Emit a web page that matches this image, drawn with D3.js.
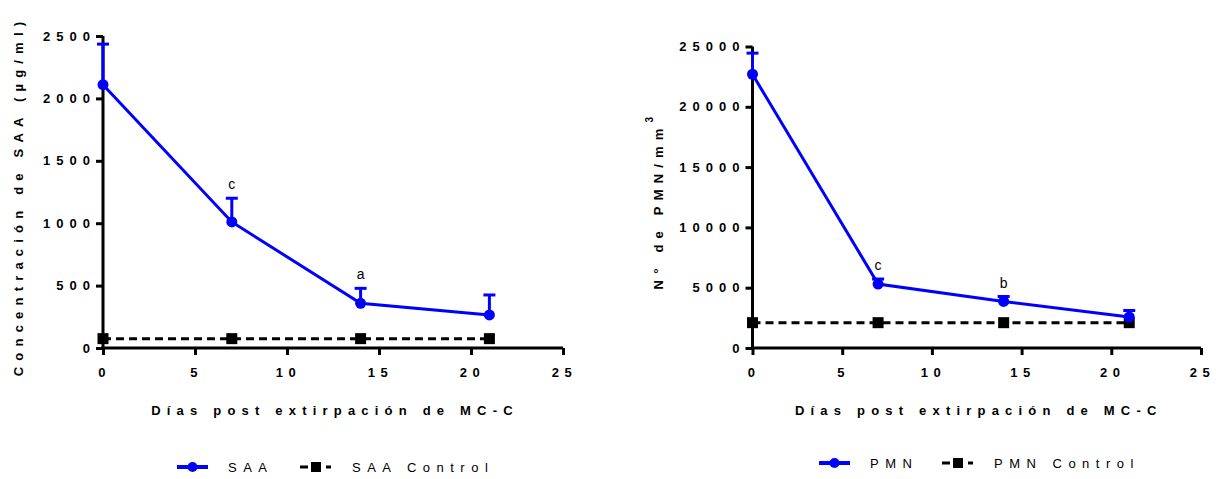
<!DOCTYPE html>
<html>
<head>
<meta charset="utf-8">
<script src="https://cdn.jsdelivr.net/npm/d3@7"></script>
<style>
  body { margin: 0; background: #fff; }
  text { font-family: "Liberation Sans", Arial, sans-serif; }
</style>
</head>
<body>
<script>
const days = [0, 7, 14, 21]
const xTicks = [0, 5, 10, 15, 20, 25]

const saaMean = [2110, 1010, 358, 265]
const saaUpper = [2435, 1200, 478, 425]
const saaControl = [75, 75, 75, 75]
const saaTicks = [0, 500, 1000, 1500, 2000, 2500]
const saaLetters = ['', 'c', 'a', '']

const pmnMean = [22700, 5300, 3860, 2570]
const pmnUpper = [24450, 5720, 4270, 3110]
const pmnControl = [2100, 2100, 2100, 2100]
const pmnTicks = [0, 5000, 10000, 15000, 20000, 25000]
const pmnLetters = ['', 'c', 'b', '']

const W = 1216
const H = 479
const BLUE = '#0000ff'

const svg = d3.select('body')
  .append('svg')
  .attr('width', W)
  .attr('height', H)

function panel ({ x0, x1, yTop, yBottom, yMax, ticks, mean, upper, control, letters, yTitle, names, legendX }) {
  const x = d3.scaleLinear().domain([0, 25]).range([x0, x1])
  const y = d3.scaleLinear().domain([0, yMax]).range([yBottom, yTop])
  const g = svg.append('g')

  // axes
  const yAxis = g.append('g')
    .attr('transform', `translate(${x0},0)`)
    .call(d3.axisLeft(y).tickValues(ticks).tickSize(7).tickPadding(6).tickFormat(d3.format('d')))
  const xAxis = g.append('g')
    .attr('transform', `translate(0,${yBottom})`)
    .call(d3.axisBottom(x).tickValues(xTicks).tickSize(7).tickPadding(13))
  for (const ax of [yAxis, xAxis]) {
    ax.select('.domain').attr('stroke', '#000').attr('stroke-width', 3)
    ax.selectAll('.tick line').attr('stroke', '#000').attr('stroke-width', 3)
    ax.selectAll('.tick text')
      .attr('fill', '#000')
      .style('font-size', '13px')
      .style('font-weight', 'bold')
      .style('letter-spacing', '6px')
  }
  yAxis.select('.domain').attr('d', `M0,${yBottom + 1.5}V${yTop}`)
  xAxis.select('.domain').attr('d', `M${x0 - 1.5},0H${x1}`)
  yAxis.selectAll('.tick text').attr('dx', '6px')
  xAxis.selectAll('.tick text').style('letter-spacing', '5.5px').attr('dx', '1px')

  // control series
  const line = d3.line().x((d, i) => x(days[i])).y(d => y(d))
  g.append('path')
    .datum(control)
    .attr('d', line)
    .attr('fill', 'none')
    .attr('stroke', '#000')
    .attr('stroke-width', 3)
    .attr('stroke-dasharray', '8,5')
  g.selectAll('rect.ctl')
    .data(control)
    .join('rect')
    .attr('x', (d, i) => x(days[i]) - 5.5)
    .attr('y', d => y(d) - 5.5)
    .attr('width', 11)
    .attr('height', 11)
    .attr('fill', '#000')

  // main series
  g.append('path')
    .datum(mean)
    .attr('d', line)
    .attr('fill', 'none')
    .attr('stroke', BLUE)
    .attr('stroke-width', 3)
  g.selectAll('line.err')
    .data(mean)
    .join('line')
    .attr('x1', (d, i) => x(days[i]))
    .attr('x2', (d, i) => x(days[i]))
    .attr('y1', d => y(d))
    .attr('y2', (d, i) => y(upper[i]))
    .attr('stroke', BLUE)
    .attr('stroke-width', 3)
  g.selectAll('line.cap')
    .data(upper)
    .join('line')
    .attr('x1', (d, i) => x(days[i]) - 6)
    .attr('x2', (d, i) => x(days[i]) + 6)
    .attr('y1', d => y(d))
    .attr('y2', d => y(d))
    .attr('stroke', BLUE)
    .attr('stroke-width', 3)
  g.selectAll('circle.pt')
    .data(mean)
    .join('circle')
    .attr('cx', (d, i) => x(days[i]))
    .attr('cy', d => y(d))
    .attr('r', 5.5)
    .attr('fill', BLUE)

  // significance letters
  g.selectAll('text.let')
    .data(upper)
    .join('text')
    .attr('x', (d, i) => x(days[i]))
    .attr('y', d => y(d) - 9)
    .attr('text-anchor', 'middle')
    .style('font-size', '14px')
    .text((d, i) => letters[i])

  // axis titles
  g.append('text')
    .attr('x', (x0 + x1) / 2 + 2)
    .attr('y', 415)
    .attr('text-anchor', 'middle')
    .style('font-size', '13px')
    .style('font-weight', 'bold')
    .style('letter-spacing', '6.2px')
    .text('Días post extirpación de MC-C')

  const yt = g.append('text')
    .attr('transform', `translate(${yTitle.x},${yTitle.y}) rotate(-90)`)
    .attr('text-anchor', 'middle')
    .style('font-size', '13px')
    .style('font-weight', 'bold')
    .style('letter-spacing', '6.2px')
  yt.append('tspan').text(yTitle.text)
  if (yTitle.sup) {
    yt.append('tspan').attr('dy', -10).style('font-size', '10px').text(yTitle.sup)
  }

  // legend
  const ly = yTitle.legendY
  const lg = g.append('g').attr('transform', `translate(${legendX},${ly})`)
  lg.append('line').attr('x1', 0).attr('x2', 31).attr('stroke', BLUE).attr('stroke-width', 4)
  lg.append('circle').attr('cx', 15.5).attr('r', 5).attr('fill', BLUE)
  lg.append('text').attr('x', 51).attr('y', 5).style('font-size', '13px').style('letter-spacing', '6.5px').text(names[0])
  lg.append('line').attr('x1', 123).attr('x2', 154).attr('stroke', '#000').attr('stroke-width', 3).attr('stroke-dasharray', '8,5')
  lg.append('rect').attr('x', 134).attr('y', -5).attr('width', 10).attr('height', 10).attr('fill', '#000')
  lg.append('text').attr('x', 175).attr('y', 5).style('font-size', '13px').style('letter-spacing', '6.5px').text(names[1])
}

panel({
  x0: 103, x1: 563, yTop: 36, yBottom: 348, yMax: 2500,
  ticks: saaTicks, mean: saaMean, upper: saaUpper, control: saaControl, letters: saaLetters,
  yTitle: { x: 23, y: 196, text: 'Concentración de SAA (µg/ml)', legendY: 467 },
  names: ['SAA', 'SAA Control'], legendX: 177
})

panel({
  x0: 752.5, x1: 1201, yTop: 46.5, yBottom: 348, yMax: 25000,
  ticks: pmnTicks, mean: pmnMean, upper: pmnUpper, control: pmnControl, letters: pmnLetters,
  yTitle: { x: 663, y: 200, text: 'N° de PMN/mm', sup: '3', legendY: 463 },
  names: ['PMN', 'PMN Control'], legendX: 819
})
</script>
</body>
</html>
